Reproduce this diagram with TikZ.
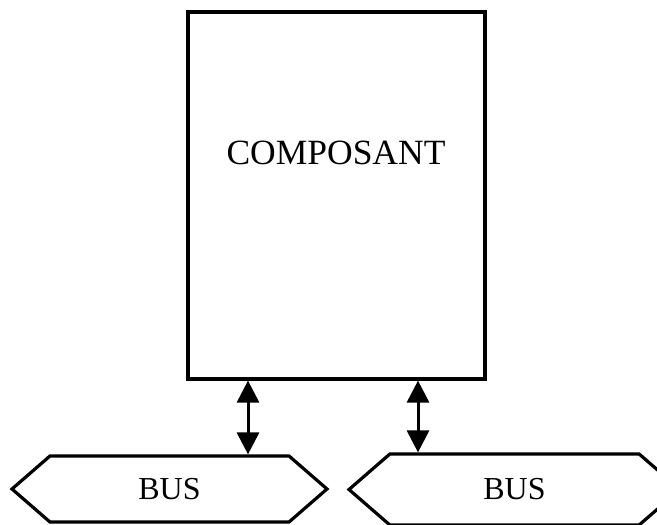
\documentclass[tikz,border=0pt]{standalone}
\usepackage{fontspec}
\setmainfont{Liberation Serif}
\usetikzlibrary{shapes.symbols}
\usetikzlibrary{arrows.meta}
\tikzset{>={Triangle[length=22pt, width=22pt]}}
\tikzset{
    bloc/.style={draw, line width=3.2pt, inner sep=0pt},
    bus/.style={draw, line width=3.2pt, inner sep=0pt, shape=signal, signal to=west and east, signal pointer angle=82, font=\fontsize{32}{36}\selectfont},
}

\begin{document}
\begin{tikzpicture}[x=1pt, y=-1pt]
    \useasboundingbox (0, 0) rectangle (657, 525);
    \node[bloc, minimum width=297pt, minimum height=367pt](comp) at (336.5, 195.5) {};
    \node[font=\fontsize{35.5}{40}\selectfont](titre) at (336, 153) {COMPOSANT};
    \node[bus, minimum width=315pt, minimum height=66pt](busA) at (169.5, 489) {BUS};
    \node[bus, minimum width=331pt, minimum height=71pt](busB) at (514.5, 489.5) {BUS};
    \draw[<->, line width=3pt]([xshift=-88.5pt]comp.south)--([xshift=-88.5pt]comp.south |- busA.north);
    \draw[<->, line width=3pt]([xshift=81.5pt]comp.south)--([xshift=81.5pt]comp.south |- busB.north);
\end{tikzpicture}
\end{document}
